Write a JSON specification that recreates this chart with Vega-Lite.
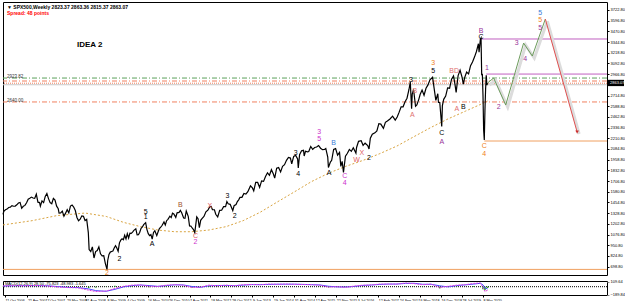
{
"$schema": "https://vega.github.io/schema/vega-lite/v6.json",
"padding": {"left": 0, "top": 1, "right": 0, "bottom": 0},
"spacing": 2,
"background": "white",
"config": {"view": {"stroke": "#000000", "strokeWidth": 1}, "font": "Liberation Sans"},
"datasets": {
"price": [
{"d":"2006-09-24","p":1314},{"d":"2006-10-01","p":1350},{"d":"2006-10-15","p":1369},{"d":"2006-10-29","p":1377},{"d":"2006-11-12","p":1396},{"d":"2006-11-26","p":1400},{"d":"2006-12-10","p":1418},{"d":"2006-12-24","p":1410},
{"d":"2007-01-07","p":1412},{"d":"2007-01-21","p":1427},{"d":"2007-02-04","p":1448},{"d":"2007-02-18","p":1455},{"d":"2007-03-04","p":1387},{"d":"2007-03-18","p":1410},{"d":"2007-04-01","p":1420},{"d":"2007-04-15","p":1452},{"d":"2007-04-29","p":1494},{"d":"2007-05-13","p":1505},{"d":"2007-05-27","p":1518},{"d":"2007-06-10","p":1507},{"d":"2007-06-24","p":1503},{"d":"2007-07-08","p":1552},{"d":"2007-07-22","p":1458},{"d":"2007-08-05","p":1453},{"d":"2007-08-12","p":1411},{"d":"2007-08-26","p":1473},{"d":"2007-09-09","p":1453},{"d":"2007-09-23","p":1526},{"d":"2007-10-07","p":1561},{"d":"2007-10-21","p":1500},{"d":"2007-11-04","p":1453},{"d":"2007-11-18","p":1440},{"d":"2007-12-02","p":1504},{"d":"2007-12-16","p":1484},{"d":"2007-12-30","p":1411},
{"d":"2008-01-13","p":1380},{"d":"2008-01-20","p":1330},{"d":"2008-02-03","p":1331},{"d":"2008-02-17","p":1353},{"d":"2008-03-02","p":1293},{"d":"2008-03-16","p":1329},{"d":"2008-03-30","p":1370},{"d":"2008-04-13","p":1332},{"d":"2008-04-27","p":1413},{"d":"2008-05-11","p":1425},{"d":"2008-05-25","p":1400},{"d":"2008-06-08","p":1360},{"d":"2008-06-22","p":1278},{"d":"2008-07-06","p":1239},{"d":"2008-07-20","p":1257},{"d":"2008-08-03","p":1297},{"d":"2008-08-17","p":1292},{"d":"2008-08-31","p":1242},{"d":"2008-09-14","p":1255},{"d":"2008-09-28","p":1100},{"d":"2008-10-05","p":899},{"d":"2008-10-19","p":877},{"d":"2008-11-02","p":931},{"d":"2008-11-16","p":800},{"d":"2008-11-30","p":876},{"d":"2008-12-14","p":888},{"d":"2008-12-28","p":931},
{"d":"2009-01-11","p":850},{"d":"2009-01-25","p":826},{"d":"2009-02-08","p":827},{"d":"2009-02-22","p":735},{"d":"2009-03-08","p":666},{"d":"2009-03-15","p":768},{"d":"2009-03-29","p":842},{"d":"2009-04-12","p":870},{"d":"2009-04-26","p":877},{"d":"2009-05-10","p":883},{"d":"2009-05-24","p":919},{"d":"2009-06-07","p":946},{"d":"2009-06-21","p":918},{"d":"2009-07-05","p":880},{"d":"2009-07-19","p":979},{"d":"2009-08-02","p":1010},{"d":"2009-08-16","p":1026},{"d":"2009-08-30","p":1016},{"d":"2009-09-13","p":1068},{"d":"2009-09-27","p":1025},{"d":"2009-10-11","p":1087},{"d":"2009-10-25","p":1036},{"d":"2009-11-08","p":1093},{"d":"2009-11-22","p":1091},{"d":"2009-12-06","p":1106},{"d":"2009-12-20","p":1126},
{"d":"2010-01-10","p":1144},{"d":"2010-01-24","p":1073},{"d":"2010-02-07","p":1075},{"d":"2010-02-21","p":1104},{"d":"2010-03-07","p":1149},{"d":"2010-03-21","p":1166},{"d":"2010-04-04","p":1194},{"d":"2010-04-25","p":1217},{"d":"2010-05-09","p":1135},{"d":"2010-05-23","p":1087},{"d":"2010-06-06","p":1064},{"d":"2010-06-20","p":1076},{"d":"2010-07-04","p":1022},{"d":"2010-07-18","p":1102},{"d":"2010-08-01","p":1121},{"d":"2010-08-22","p":1064},{"d":"2010-09-05","p":1109},{"d":"2010-09-19","p":1148},{"d":"2010-10-03","p":1165},{"d":"2010-10-17","p":1183},{"d":"2010-11-07","p":1225},{"d":"2010-11-21","p":1189},{"d":"2010-12-05","p":1240},{"d":"2010-12-19","p":1256},
{"d":"2011-01-09","p":1293},{"d":"2011-01-23","p":1276},{"d":"2011-02-06","p":1329},{"d":"2011-02-20","p":1320},{"d":"2011-03-13","p":1279},{"d":"2011-03-27","p":1332},{"d":"2011-04-17","p":1337},{"d":"2011-05-01","p":1360},{"d":"2011-05-15","p":1333},{"d":"2011-06-05","p":1271},{"d":"2011-06-19","p":1268},{"d":"2011-07-03","p":1353},{"d":"2011-07-24","p":1292},{"d":"2011-08-07","p":1178},{"d":"2011-08-21","p":1177},{"d":"2011-09-04","p":1154},{"d":"2011-09-18","p":1136},{"d":"2011-10-02","p":1099},{"d":"2011-10-23","p":1285},{"d":"2011-11-06","p":1263},{"d":"2011-11-20","p":1158},{"d":"2011-12-04","p":1244},{"d":"2011-12-18","p":1265},
{"d":"2012-01-08","p":1289},{"d":"2012-01-29","p":1344},{"d":"2012-02-19","p":1365},{"d":"2012-03-11","p":1404},{"d":"2012-03-25","p":1408},{"d":"2012-04-08","p":1370},{"d":"2012-04-29","p":1369},{"d":"2012-05-13","p":1316},{"d":"2012-06-03","p":1285},{"d":"2012-06-24","p":1362},{"d":"2012-07-15","p":1363},{"d":"2012-08-05","p":1405},{"d":"2012-08-26","p":1406},{"d":"2012-09-09","p":1466},{"d":"2012-09-23","p":1440},{"d":"2012-10-14","p":1433},{"d":"2012-11-11","p":1359},{"d":"2012-11-25","p":1416},{"d":"2012-12-16","p":1430},{"d":"2012-12-30","p":1466},
{"d":"2013-01-13","p":1486},{"d":"2013-01-27","p":1514},{"d":"2013-02-17","p":1515},{"d":"2013-03-10","p":1560},{"d":"2013-03-31","p":1553},{"d":"2013-04-21","p":1582},{"d":"2013-05-19","p":1650},{"d":"2013-06-09","p":1626},{"d":"2013-06-23","p":1592},{"d":"2013-07-14","p":1692},{"d":"2013-08-04","p":1691},{"d":"2013-08-25","p":1633},{"d":"2013-09-15","p":1709},{"d":"2013-10-06","p":1703},{"d":"2013-10-27","p":1761},{"d":"2013-11-17","p":1804},{"d":"2013-12-08","p":1775},{"d":"2013-12-29","p":1841},
{"d":"2014-01-19","p":1790},{"d":"2014-02-02","p":1741},{"d":"2014-02-23","p":1859},{"d":"2014-03-16","p":1866},{"d":"2014-04-06","p":1815},{"d":"2014-04-27","p":1881},{"d":"2014-05-18","p":1900},{"d":"2014-06-08","p":1951},{"d":"2014-06-29","p":1985},{"d":"2014-07-20","p":1978},{"d":"2014-08-03","p":1909},{"d":"2014-08-24","p":1997},{"d":"2014-09-14","p":2010},{"d":"2014-10-05","p":1967},{"d":"2014-10-12","p":1862},{"d":"2014-10-26","p":2018},{"d":"2014-11-16","p":2063},{"d":"2014-12-07","p":2070},{"d":"2014-12-14","p":2002},{"d":"2014-12-28","p":2058},
{"d":"2015-01-18","p":2051},{"d":"2015-02-01","p":2055},{"d":"2015-02-22","p":2115},{"d":"2015-03-15","p":2081},{"d":"2015-04-05","p":2102},{"d":"2015-04-26","p":2108},{"d":"2015-05-17","p":2126},{"d":"2015-06-07","p":2094},{"d":"2015-06-28","p":2077},{"d":"2015-07-19","p":2079},{"d":"2015-08-02","p":2091},{"d":"2015-08-23","p":1989},{"d":"2015-08-30","p":1867},{"d":"2015-09-20","p":1931},{"d":"2015-10-04","p":1951},{"d":"2015-10-25","p":2079},{"d":"2015-11-15","p":2089},{"d":"2015-12-06","p":2012},{"d":"2015-12-27","p":2044},
{"d":"2016-01-10","p":1880},{"d":"2016-01-24","p":1940},{"d":"2016-02-07","p":1810},{"d":"2016-02-28","p":1999},{"d":"2016-03-20","p":2035},{"d":"2016-04-10","p":2080},{"d":"2016-05-01","p":2057},{"d":"2016-05-22","p":2099},{"d":"2016-06-19","p":2037},{"d":"2016-06-26","p":2103},{"d":"2016-07-17","p":2175},{"d":"2016-08-14","p":2183},{"d":"2016-09-04","p":2128},{"d":"2016-09-25","p":2153},{"d":"2016-10-23","p":2126},{"d":"2016-11-06","p":2085},{"d":"2016-11-20","p":2213},{"d":"2016-12-11","p":2259},
{"d":"2017-01-08","p":2275},{"d":"2017-01-29","p":2297},{"d":"2017-02-19","p":2383},{"d":"2017-03-12","p":2378},{"d":"2017-04-09","p":2328},{"d":"2017-04-30","p":2399},{"d":"2017-05-21","p":2415},{"d":"2017-06-18","p":2438},{"d":"2017-07-16","p":2472},{"d":"2017-08-13","p":2425},{"d":"2017-09-03","p":2461},{"d":"2017-09-24","p":2519},{"d":"2017-10-15","p":2581},{"d":"2017-11-05","p":2582},{"d":"2017-11-26","p":2642},{"d":"2017-12-17","p":2683},
{"d":"2018-01-07","p":2786},{"d":"2018-01-21","p":2873},{"d":"2018-02-04","p":2560},{"d":"2018-02-11","p":2732},{"d":"2018-02-25","p":2786},{"d":"2018-03-18","p":2588},{"d":"2018-04-01","p":2604},{"d":"2018-04-22","p":2670},{"d":"2018-05-06","p":2727},{"d":"2018-05-27","p":2779},{"d":"2018-06-17","p":2718},{"d":"2018-07-08","p":2801},{"d":"2018-07-29","p":2840},{"d":"2018-08-19","p":2901},{"d":"2018-09-16","p":2930},{"d":"2018-10-07","p":2767},{"d":"2018-10-21","p":2658},{"d":"2018-11-11","p":2736},{"d":"2018-11-18","p":2633},{"d":"2018-12-02","p":2633},{"d":"2018-12-23","p":2351},{"d":"2018-12-30","p":2596},
{"d":"2019-01-13","p":2670},{"d":"2019-02-03","p":2708},{"d":"2019-02-24","p":2804},{"d":"2019-03-17","p":2801},{"d":"2019-04-07","p":2907},{"d":"2019-04-28","p":2945},{"d":"2019-05-12","p":2859},{"d":"2019-05-26","p":2752},{"d":"2019-06-16","p":2950},{"d":"2019-07-07","p":3013},{"d":"2019-07-28","p":2932},{"d":"2019-08-11","p":2850},{"d":"2019-08-25","p":2926},{"d":"2019-09-15","p":2992},{"d":"2019-10-06","p":2970},{"d":"2019-10-27","p":3066},{"d":"2019-11-17","p":3110},{"d":"2019-12-08","p":3168},{"d":"2019-12-29","p":3234},
{"d":"2020-01-19","p":3325},{"d":"2020-01-26","p":3226},{"d":"2020-02-09","p":3380},{"d":"2020-02-16","p":3393},{"d":"2020-02-23","p":2954},{"d":"2020-03-01","p":2972},{"d":"2020-03-08","p":2711},{"d":"2020-03-15","p":2305},{"d":"2020-03-22","p":2191},{"d":"2020-03-29","p":2541},{"d":"2020-04-05","p":2790},{"d":"2020-04-12","p":2954},{"d":"2020-04-19","p":2837},{"d":"2020-04-26","p":2863}
],
"ma": [
{"d":"2006-09-24","p":1190},{"d":"2007-06-01","p":1240},{"d":"2008-01-01","p":1300},{"d":"2008-09-01","p":1330},{"d":"2009-03-01","p":1290},{"d":"2009-09-01","p":1220},{"d":"2010-03-01","p":1170},{"d":"2010-09-01","p":1130},{"d":"2011-03-01","p":1110},{"d":"2011-09-01","p":1110},{"d":"2012-03-01","p":1130},{"d":"2012-09-01","p":1170},{"d":"2013-03-01","p":1240},{"d":"2013-09-01","p":1340},{"d":"2014-03-01","p":1460},{"d":"2014-09-01","p":1580},{"d":"2015-03-01","p":1700},{"d":"2015-09-01","p":1800},{"d":"2016-03-01","p":1880},{"d":"2016-09-01","p":1950},{"d":"2017-03-01","p":2030},{"d":"2017-09-01","p":2120},{"d":"2018-03-01","p":2230},{"d":"2018-09-01","p":2340},{"d":"2019-03-01","p":2440},{"d":"2019-09-01","p":2530},{"d":"2020-03-01","p":2620},{"d":"2020-04-26","p":2650}
],
"proj": [
{"d":"2020-04-26","p":2863},{"d":"2020-07-01","p":2921},{"d":"2020-11-08","p":2603},{"d":"2021-05-20","p":3333},{"d":"2021-08-22","p":3180},{"d":"2022-01-09","p":3616}
],
"projr": [
{"d":"2022-01-09","p":3616},{"d":"2022-12-18","p":2285}
],
"labels": [
{"d":"2009-03-08","p":620,"t":"2","c":"#f08020"},
{"d":"2009-07-19","p":790,"t":"2","c":"#000000"},
{"d":"2010-04-25","p":1345,"t":"5","c":"#000000"},
{"d":"2010-04-25","p":1280,"t":"1","c":"#000000"},
{"d":"2010-07-04","p":960,"t":"A","c":"#000000"},
{"d":"2011-05-01","p":1420,"t":"B","c":"#a0522d"},
{"d":"2011-10-09","p":1060,"t":"C","c":"#e06060"},
{"d":"2011-10-09","p":990,"t":"2","c":"#cc33cc"},
{"d":"2012-03-11","p":1410,"t":"X","c":"#e06060"},
{"d":"2012-09-16","p":1535,"t":"3","c":"#000000"},
{"d":"2012-12-02","p":1300,"t":"2","c":"#000000"},
{"d":"2014-09-14","p":2040,"t":"3","c":"#000000"},
{"d":"2014-10-12","p":1790,"t":"4","c":"#000000"},
{"d":"2015-05-24","p":2290,"t":"3","c":"#cc33cc"},
{"d":"2015-05-24","p":2200,"t":"5","c":"#cc33cc"},
{"d":"2015-09-06","p":1800,"t":"A","c":"#000000"},
{"d":"2015-10-25","p":2150,"t":"B","c":"#3a7bd5"},
{"d":"2016-02-21","p":1765,"t":"C","c":"#cc33cc"},
{"d":"2016-02-21","p":1690,"t":"4","c":"#cc33cc"},
{"d":"2016-06-26","p":1950,"t":"W","c":"#e06060"},
{"d":"2016-08-21","p":2040,"t":"X","c":"#e06060"},
{"d":"2016-11-06","p":1975,"t":"2","c":"#000000"},
{"d":"2018-01-28","p":2900,"t":"3","c":"#000000"},
{"d":"2018-02-11","p":2490,"t":"A","c":"#e07070"},
{"d":"2018-03-11","p":2770,"t":"B","c":"#e07070"},
{"d":"2018-09-23","p":3100,"t":"3","c":"#f08020"},
{"d":"2018-09-23","p":3000,"t":"5","c":"#000000"},
{"d":"2018-12-23","p":2270,"t":"C","c":"#000000"},
{"d":"2018-12-23","p":2170,"t":"A","c":"#993399"},
{"d":"2019-05-05","p":3000,"t":"BD","c":"#e07070"},
{"d":"2019-06-02","p":2560,"t":"A","c":"#e07070"},
{"d":"2019-08-11","p":2580,"t":"B","c":"#000000"},
{"d":"2020-02-16","p":3480,"t":"B","c":"#993399"},
{"d":"2020-02-16","p":3410,"t":"C","c":"#000000"},
{"d":"2020-04-19","p":3040,"t":"1","c":"#993399"},
{"d":"2020-03-22","p":2120,"t":"C","c":"#f08020"},
{"d":"2020-03-22","p":2030,"t":"4","c":"#f08020"},
{"d":"2020-08-23","p":2580,"t":"2","c":"#993399"},
{"d":"2021-03-07","p":3330,"t":"3","c":"#993399"},
{"d":"2021-06-06","p":3150,"t":"4","c":"#993399"},
{"d":"2021-11-14","p":3690,"t":"5","c":"#3a7bd5"},
{"d":"2021-11-14","p":3600,"t":"5","c":"#f08020"},
{"d":"2021-11-14","p":3510,"t":"5","c":"#993399"}
],
"macd": [
{"d":"2006-09-24","m":18,"s":15,"h":3},{"d":"2007-01-01","m":25,"s":22,"h":3},{"d":"2007-04-01","m":22,"s":23,"h":-1},{"d":"2007-07-01","m":28,"s":25,"h":3},{"d":"2007-10-01","m":20,"s":22,"h":-2},{"d":"2008-01-01","m":-5,"s":5,"h":-10},{"d":"2008-04-01","m":-20,"s":-15,"h":-5},{"d":"2008-07-01","m":-25,"s":-20,"h":-5},{"d":"2008-10-01","m":-80,"s":-50,"h":-30},{"d":"2008-12-01","m":-110,"s":-90,"h":-20},{"d":"2009-03-01","m":-100,"s":-105,"h":5},{"d":"2009-06-01","m":-40,"s":-60,"h":20},{"d":"2009-09-01","m":10,"s":-5,"h":15},{"d":"2009-12-01","m":35,"s":25,"h":10},{"d":"2010-03-01","m":40,"s":38,"h":2},{"d":"2010-06-01","m":10,"s":25,"h":-15},{"d":"2010-09-01","m":5,"s":8,"h":-3},{"d":"2010-12-01","m":35,"s":25,"h":10},{"d":"2011-03-01","m":45,"s":42,"h":3},{"d":"2011-06-01","m":35,"s":40,"h":-5},{"d":"2011-09-01","m":-20,"s":5,"h":-25},{"d":"2011-12-01","m":-10,"s":-15,"h":5},{"d":"2012-03-01","m":35,"s":20,"h":15},{"d":"2012-06-01","m":20,"s":28,"h":-8},{"d":"2012-09-01","m":35,"s":28,"h":7},{"d":"2012-12-01","m":20,"s":25,"h":-5},{"d":"2013-03-01","m":45,"s":35,"h":10},{"d":"2013-06-01","m":50,"s":48,"h":2},{"d":"2013-09-01","m":45,"s":47,"h":-2},{"d":"2013-12-01","m":60,"s":52,"h":8},{"d":"2014-03-01","m":55,"s":56,"h":-1},{"d":"2014-06-01","m":60,"s":57,"h":3},{"d":"2014-09-01","m":55,"s":57,"h":-2},{"d":"2014-12-01","m":50,"s":52,"h":-2},{"d":"2015-03-01","m":45,"s":47,"h":-2},{"d":"2015-06-01","m":35,"s":40,"h":-5},{"d":"2015-09-01","m":-10,"s":10,"h":-20},{"d":"2015-12-01","m":0,"s":-5,"h":5},{"d":"2016-03-01","m":-15,"s":-8,"h":-7},{"d":"2016-06-01","m":15,"s":5,"h":10},{"d":"2016-09-01","m":35,"s":28,"h":7},{"d":"2016-12-01","m":40,"s":38,"h":2},{"d":"2017-03-01","m":60,"s":52,"h":8},{"d":"2017-06-01","m":60,"s":60,"h":0},{"d":"2017-09-01","m":60,"s":60,"h":0},{"d":"2017-12-01","m":85,"s":75,"h":10},{"d":"2018-03-01","m":70,"s":78,"h":-8},{"d":"2018-06-01","m":45,"s":55,"h":-10},{"d":"2018-09-01","m":60,"s":55,"h":5},{"d":"2018-12-01","m":-20,"s":20,"h":-40},{"d":"2019-03-01","m":10,"s":-5,"h":15},{"d":"2019-06-01","m":35,"s":25,"h":10},{"d":"2019-09-01","m":45,"s":42,"h":3},{"d":"2019-12-01","m":75,"s":60,"h":15},{"d":"2020-02-09","m":85,"s":78,"h":7},{"d":"2020-03-08","m":-20,"s":40,"h":-60},{"d":"2020-03-29","m":-110,"s":-30,"h":-80},{"d":"2020-04-26","m":-80,"s":-50,"h":-30}
]
},
"vconcat": [
{
"width": 604,
"height": 273,
"encoding": {
"x": {"field": "d", "type": "quantitative", "axis": null,
"scale": {"type": "linear", "domain": [1159056000000, 1236470400000, 1583625600000, 1699142400000], "range": [0, 104, 480, 604], "zero": false, "nice": false}},
"y": {"field": "p", "type": "quantitative",
"scale": {"domain": [600, 3817], "nice": false, "zero": false},
"axis": {"orient": "right", "title": null, "grid": false, "domain": false, "tickSize": 2, "tickColor": "#000", "labelFontSize": 4, "labelColor": "#000", "labelPadding": 1, "format": ".2f",
"values": [3722.8, 3596.8, 3470.8, 3344.8, 3218.8, 3092.8, 2966.8, 2714.8, 2588.8, 2462.8, 2336.8, 2210.8, 2084.8, 1958.8, 1832.8, 1706.8, 1580.8, 1454.8, 1328.8, 1202.8, 1076.8, 950.8, 824.8, 698.8]}}
},
"layer": [
{"data": {"name": "ma", "format": {"parse": {"d": "date"}}}, "mark": {"type": "line", "color": "#d9a441", "strokeWidth": 1, "strokeDash": [2, 2]}},
{"data": {"values": [{"p": 2921}]}, "mark": {"type": "rule", "color": "#5aa05a", "strokeWidth": 1, "strokeDash": [5, 2, 1, 2]}, "encoding": {"x": null}},
{"data": {"values": [{"p": 2886}, {"p": 2639}]}, "mark": {"type": "rule", "color": "#f08060", "strokeWidth": 1, "strokeDash": [5, 2, 1, 2]}, "encoding": {"x": null}},
{"data": {"values": [{"p": 2860}]}, "mark": {"type": "rule", "color": "#f08060", "strokeWidth": 1, "strokeDash": [1, 1]}, "encoding": {"x": null}},
{"data": {"values": [{"p": 2842}]}, "mark": {"type": "rule", "color": "#c8c8c8", "strokeWidth": 1}, "encoding": {"x": null}},
{"data": {"values": [{"p": 666}]}, "mark": {"type": "rule", "color": "#f0a060", "strokeWidth": 1}, "encoding": {"x": null}},
{"data": {"values": [{"d": "2020-02-16", "e": "2023-11-05", "p": 3381, "c": "#c060c0"}, {"d": "2020-04-12", "e": "2023-11-05", "p": 2968, "c": "#c060c0"}, {"d": "2020-03-22", "e": "2023-11-05", "p": 2179, "c": "#f0a060"}], "format": {"parse": {"d": "date", "e": "date"}}},
 "mark": {"type": "rule", "strokeWidth": 1}, "encoding": {"x2": {"field": "e"}, "color": {"field": "c", "type": "nominal", "scale": null}}},
{"data": {"name": "price", "format": {"parse": {"d": "date"}}}, "mark": {"type": "line", "color": "#000000", "strokeWidth": 1.2}},
{"data": {"name": "proj", "format": {"parse": {"d": "date"}}}, "mark": {"type": "line", "color": "#dcdcdc", "strokeWidth": 3, "xOffset": 2, "yOffset": 2}},
{"data": {"name": "projr", "format": {"parse": {"d": "date"}}}, "mark": {"type": "line", "color": "#dcdcdc", "strokeWidth": 3, "xOffset": 2, "yOffset": 2}},
{"data": {"name": "proj", "format": {"parse": {"d": "date"}}}, "mark": {"type": "line", "color": "#6b9a5b", "strokeWidth": 1}},
{"data": {"name": "projr", "format": {"parse": {"d": "date"}}}, "mark": {"type": "line", "color": "#e05050", "strokeWidth": 1}},
{"data": {"values": [{"d": "2022-12-18", "p": 2285}], "format": {"parse": {"d": "date"}}}, "mark": {"type": "point", "shape": "triangle-down", "filled": true, "color": "#c00000", "size": 14}},
{"data": {"name": "labels", "format": {"parse": {"d": "date"}}}, "mark": {"type": "text", "fontSize": 7, "font": "Liberation Sans"}, "encoding": {"text": {"field": "t"}, "color": {"field": "c", "type": "nominal", "scale": null}}},
{"data": {"values": [{"d": "2006-09-24", "p": 2921, "t": "2923.82"}, {"d": "2006-09-24", "p": 2639, "t": "2640.00"}], "format": {"parse": {"d": "date"}}}, "mark": {"type": "text", "fontSize": 4.5, "align": "left", "dx": 4, "dy": -1, "color": "#333"}, "encoding": {"text": {"field": "t"}}},
{"data": {"values": [{"d": "2006-09-24", "p": 3760, "t": "▼ SPX500,Weekly  2823.37 2863.36 2815.37 2863.07", "c": "#000000"}, {"d": "2006-09-24", "p": 3690, "t": "Spread: 48 points", "c": "#ff0000"}], "format": {"parse": {"d": "date"}}}, "mark": {"type": "text", "fontSize": 5, "align": "left", "dx": 4, "fontWeight": "bold"}, "encoding": {"text": {"field": "t"}, "color": {"field": "c", "type": "nominal", "scale": null}}},
{"data": {"values": [{"d": "2008-06-22", "p": 3310, "t": "IDEA 2"}], "format": {"parse": {"d": "date"}}}, "mark": {"type": "text", "fontSize": 8, "align": "left", "fontWeight": "bold", "color": "#000"}, "encoding": {"text": {"field": "t"}}},
{"data": {"values": [{"d": "2023-11-05", "p": 2900, "q": 2826}], "format": {"parse": {"d": "date"}}}, "mark": {"type": "rect", "color": "#000", "x2Offset": 17, "clip": false}, "encoding": {"x2": {"field": "d"}, "y2": {"field": "q"}}},
{"data": {"values": [{"d": "2023-11-05", "p": 2863, "t": "2863.07"}], "format": {"parse": {"d": "date"}}}, "mark": {"type": "text", "fontSize": 4, "align": "left", "dx": 3, "color": "#fff", "clip": false}, "encoding": {"text": {"field": "t"}}}
]
},
{
"width": 604,
"height": 14,
"encoding": {
"x": {"field": "d", "type": "quantitative",
"scale": {"type": "linear", "domain": [1159056000000, 1236470400000, 1583625600000, 1699142400000], "range": [0, 104, 480, 604], "zero": false, "nice": false},
"axis": {"title": null, "format": "%-d %b %Y", "formatType": "time", "labelFontSize": 3.6, "labelAlign": "left", "labelPadding": 1, "tickSize": 2, "tickColor": "#000", "domain": false, "grid": false, "labelColor": "#000", "labelOverlap": false, "labelBound": false,
"values": [1160524800000, 1177200000000, 1191715200000, 1206230400000, 1220140800000, 1236470400000, 1254614400000, 1273968000000, 1293321600000, 1312675200000, 1332028800000, 1351382400000, 1370736000000, 1390089600000, 1409443200000, 1428796800000, 1448150400000, 1467504000000, 1486857600000, 1506211200000, 1525564800000, 1544918400000, 1564272000000, 1583625600000]}}
},
"layer": [
{"data": {"values": [{"v": 0}]}, "mark": {"type": "rule", "color": "#000", "strokeDash": [1, 1], "strokeWidth": 1}, "encoding": {"x": null, "y": {"field": "v", "type": "quantitative", "scale": {"domain": [-190, 130], "nice": false}, "axis": {"orient": "right", "title": null, "grid": false, "domain": false, "values": [-189.84, 0, 109.64], "format": ".2f", "labelFontSize": 4, "tickSize": 2, "labelPadding": 1, "labelColor": "#000"}}}},
{"data": {"name": "macd", "format": {"parse": {"d": "date"}}}, "mark": {"type": "rule", "color": "#1a9a1a", "strokeWidth": 1.5}, "encoding": {"y": {"field": "h", "type": "quantitative"}, "y2": {"datum": 0}}},
{"data": {"name": "macd", "format": {"parse": {"d": "date"}}}, "mark": {"type": "line", "color": "#4a4aff", "strokeWidth": 1}, "encoding": {"y": {"field": "s", "type": "quantitative"}}},
{"data": {"name": "macd", "format": {"parse": {"d": "date"}}}, "mark": {"type": "line", "color": "#e040e0", "strokeWidth": 1, "strokeDash": [2, 1]}, "encoding": {"y": {"field": "m", "type": "quantitative"}}},
{"data": {"values": [{"d": "2006-09-24", "v": 125, "t": "MACD(12,26,9) 28.50 -75.823 -48.983 -1.645"}], "format": {"parse": {"d": "date"}}}, "mark": {"type": "text", "fontSize": 4, "align": "left", "baseline": "top", "dx": 2, "dy": 1, "color": "#000"}, "encoding": {"y": {"field": "v", "type": "quantitative"}, "text": {"field": "t"}}}
]
}
]
}
